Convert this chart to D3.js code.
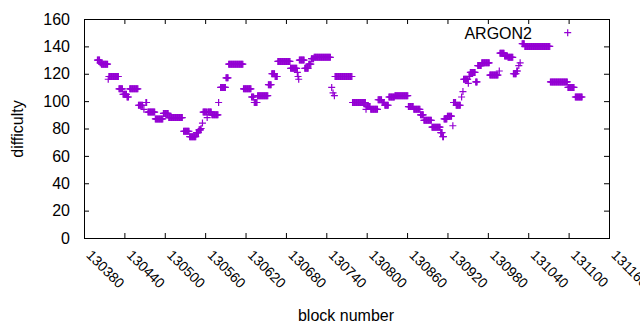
<!DOCTYPE html>
<html>
<head>
<meta charset="utf-8">
<script src="https://d3js.org/d3.v7.min.js"></script>
<style>
    body { margin: 0; background: #fff; }
    svg { font-family: "Liberation Sans", Arial, sans-serif; }
</style>
</head>
<body>
<script>
var runs = [
    [130400,130403,130],[130404,130405,128],[130406,130415,127],[130416,130416,116],
    [130417,130431,118],[130432,130437,109],[130438,130443,105],[130444,130446,103],
    [130448,130460,109],[130461,130467,97],[130469,130469,94],[130472,130473,99],
    [130475,130485,92],[130486,130497,87],[130498,130505,91],[130506,130526,88],
    [130528,130536,78],[130537,130546,74],[130547,130550,77],[130551,130553,79],
    [130554,130554,80],[130556,130556,84],[130557,130562,92],[130563,130563,88],
    [130564,130569,92],[130570,130579,90],[130580,130580,99],[130583,130590,110],
    [130591,130594,117],[130595,130616,127],[130617,130628,109],[130629,130632,103],
    [130633,130637,99],[130638,130653,104],[130654,130658,112],[130659,130663,120],
    [130664,130667,118],[130668,130686,129],[130687,130696,124],[130697,130697,121],
    [130698,130698,118],[130699,130699,116],[130700,130707,130],[130708,130713,124],
    [130714,130717,127],[130718,130721,131],[130722,130746,132],[130748,130748,110],
    [130750,130750,106],[130752,130752,104],[130753,130778,118],[130779,130798,99],
    [130799,130799,94],[130800,130805,96],[130806,130816,94],[130817,130822,101],
    [130823,130826,99],[130827,130832,97],[130833,130841,103],[130842,130861,104],
    [130862,130869,96],[130870,130879,94],[130880,130884,90],[130885,130896,86],
    [130897,130909,81],[130910,130912,77],[130913,130914,74],[130915,130919,87],
    [130920,130926,89],[130928,130928,82],[130929,130932,99],[130933,130939,97],
    [130941,130941,103],[130943,130943,107],[130944,130950,116],[130951,130951,113],
    [130952,130953,118],[130954,130961,121],[130962,130964,114],[130965,130970,126],
    [130971,130982,128],[130983,130995,119],[130997,130997,122],[130998,131004,135],
    [131005,131009,133],[131010,131017,132],[131018,131022,120],[131023,131024,122],
    [131026,131026,126],[131028,131028,128],[131031,131034,142],[131035,131072,140],
    [131073,131098,114],[131099,131108,110],[131110,131120,103]
];
var xTicks = d3.range(130380, 131161, 60);
var yTicks = [0, 20, 40, 60, 80, 100, 120, 140, 160];
var seriesName = "ARGON2";

var points = [];
runs.forEach(function(r) {
    for (var b = r[0]; b <= r[1]; b++) points.push({block: b, difficulty: r[2]});
});

var W = 640, H = 330;
var plotL = 84, plotR = 609, plotT = 19, plotB = 238;
var colour = "#9400d3";

var svg = d3.select("body").append("svg")
    .attr("width", W).attr("height", H);
svg.append("rect").attr("width", W).attr("height", H).attr("fill", "#fff");

var x = d3.scaleLinear().domain([130380, 131160]).range([plotL, plotR]);
var y = d3.scaleLinear().domain([0, 160]).range([plotB, plotT]);

// axes, ticks drawn inwards and mirrored like gnuplot
svg.append("g").attr("transform", "translate(" + plotL + ",0)")
    .call(d3.axisLeft(y).tickValues(yTicks).tickSize(-5).tickPadding(14))
    .call(function(g) { g.select(".domain").remove(); })
    .selectAll("text").attr("font-size", 16).attr("font-family", null).attr("fill", "#000");

svg.append("g").attr("transform", "translate(" + plotR + ",0)")
    .call(d3.axisRight(y).tickValues(yTicks).tickSize(-5).tickFormat(""))
    .call(function(g) { g.select(".domain").remove(); });

svg.append("g").attr("transform", "translate(0," + plotT + ")")
    .call(d3.axisTop(x).tickValues(xTicks).tickSize(-5).tickFormat(""))
    .call(function(g) { g.select(".domain").remove(); });

svg.append("g").attr("transform", "translate(0," + plotB + ")")
    .call(d3.axisBottom(x).tickValues(xTicks).tickSize(-5).tickFormat(d3.format("d")))
    .call(function(g) { g.select(".domain").remove(); })
  .selectAll("text")
    .attr("font-size", 14).attr("font-family", null).attr("fill", "#000")
    .attr("y", 0).attr("dy", 0)
    .style("text-anchor", "start")
    .attr("transform", "translate(1,18) rotate(45)");

svg.selectAll(".tick line").attr("stroke", "#000");

svg.append("rect")
    .attr("x", plotL + 0.5).attr("y", plotT + 0.5)
    .attr("width", plotR - plotL).attr("height", plotB - plotT)
    .attr("fill", "none").attr("stroke", "#000").attr("stroke-width", 1);

// points
var plus = "M-3.5,0H3.5M0,-3.5V3.5";
svg.append("g").selectAll("path")
    .data(points)
  .enter().append("path")
    .attr("d", plus)
    .attr("transform", function(d) { return "translate(" + x(d.block) + "," + y(d.difficulty) + ")"; })
    .attr("stroke", colour).attr("stroke-width", 1.2).attr("fill", "none");

// key
svg.append("text")
    .attr("x", 532).attr("y", 33).attr("dy", "0.35em")
    .attr("text-anchor", "end").attr("font-size", 16)
    .text(seriesName);
svg.append("path")
    .attr("d", plus)
    .attr("transform", "translate(567.7,32.7)")
    .attr("stroke", colour).attr("stroke-width", 1.2).attr("fill", "none");

// axis titles
svg.append("text")
    .attr("transform", "translate(17,129) rotate(-90)")
    .attr("dy", "0.35em").attr("text-anchor", "middle").attr("font-size", 16)
    .text("difficulty");
svg.append("text")
    .attr("x", 346).attr("y", 321)
    .attr("text-anchor", "middle").attr("font-size", 16)
    .text("block number");
</script>
</body>
</html>
